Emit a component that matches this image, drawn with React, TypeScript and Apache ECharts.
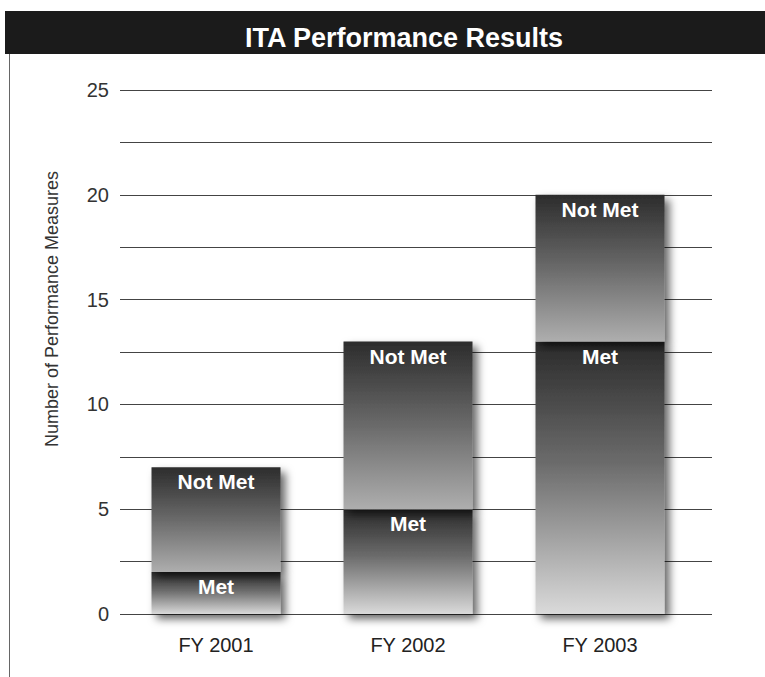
import React, { useEffect, useRef } from "react";
import * as echarts from "echarts";

const titleText = "ITA Performance Results";
const yAxisName = "Number of Performance Measures";
const categories = ["FY 2001", "FY 2002", "FY 2003"];
const metValues = [2, 5, 13];
const notMetValues = [5, 8, 7];
const seriesNames = ["Met", "Not Met"];

export default function App() {
  const ref = useRef<HTMLDivElement>(null);
  useEffect(() => {
    if (!ref.current) return;
    const chart = echarts.init(ref.current, undefined, { renderer: "svg" });
    const font = "'Liberation Sans', Arial, Helvetica, sans-serif";
    const barStyle = (stops: [number, string][]) => ({
      color: new echarts.graphic.LinearGradient(
        0, 0, 0, 1,
        stops.map(([offset, color]) => ({ offset, color }))
      ),
      shadowColor: "rgba(0,0,0,0.6)",
      shadowBlur: 9,
      shadowOffsetX: 5,
      shadowOffsetY: 5,
    });
    const label = (text: string) => ({
      show: true,
      position: "insideTop" as const,
      distance: 4,
      formatter: text,
      color: "#ffffff",
      fontWeight: "bold" as const,
      fontSize: 21,
      fontFamily: font,
    });
    chart.setOption({
      animation: false,
      backgroundColor: "#ffffff",
      title: {
        text: titleText,
        left: 399,
        top: 33,
        textAlign: "center",
        textVerticalAlign: "middle",
        textStyle: {
          color: "#ffffff",
          fontSize: 27,
          fontWeight: "bold",
          fontFamily: font,
        },
      },
      graphic: [
        {
          type: "line",
          z: -1,
          shape: { x1: 9.5, y1: 11, x2: 9.5, y2: 677 },
          style: { stroke: "#666666", lineWidth: 1 },
        },
        {
          type: "rect",
          z: -1,
          shape: { x: 5, y: 11, width: 760, height: 43 },
          style: { fill: "#1b1b1b" },
        },
        {
          type: "text",
          x: 52,
          y: 309,
          rotation: Math.PI / 2,
          style: {
            text: yAxisName,
            fill: "#333333",
            fontSize: 18,
            fontFamily: font,
            textAlign: "center",
            textVerticalAlign: "middle",
          },
        },
      ],
      grid: [
        { left: 120, width: 592, top: 90, height: 524 },
        { left: 120, width: 576, top: 90, height: 524 },
      ],
      xAxis: [
        { type: "value", gridIndex: 0, show: false, min: 0, max: 1 },
        {
          type: "category",
          gridIndex: 1,
          data: categories,
          axisLine: { show: false },
          axisTick: { show: false },
          axisLabel: {
            color: "#222222",
            fontSize: 20,
            fontFamily: font,
            margin: 21,
          },
        },
      ],
      yAxis: [
        {
          type: "value",
          gridIndex: 0,
          min: 0,
          max: 25,
          interval: 2.5,
          axisLine: { show: false },
          axisTick: { show: false },
          axisLabel: {
            color: "#333333",
            fontSize: 20,
            fontFamily: font,
            margin: 11,
            formatter: (v: number) => (v % 5 === 0 ? String(v) : ""),
          },
          splitLine: { lineStyle: { color: "#444444", width: 1 } },
        },
        {
          type: "value",
          gridIndex: 1,
          min: 0,
          max: 25,
          show: false,
          splitLine: { show: false },
        },
      ],
      series: [
        {
          name: seriesNames[0],
          type: "bar",
          xAxisIndex: 1,
          yAxisIndex: 1,
          stack: "total",
          barWidth: 129,
          data: metValues,
          itemStyle: barStyle([
            [0, "#2a2a2a"],
            [0.45, "#6c6c6c"],
            [1, "#dadada"],
          ]),
          label: label(seriesNames[0]),
        },
        {
          name: seriesNames[1],
          type: "bar",
          xAxisIndex: 1,
          yAxisIndex: 1,
          stack: "total",
          barWidth: 129,
          data: notMetValues,
          itemStyle: barStyle([
            [0, "#2c2c2c"],
            [0.5, "#6a6a6a"],
            [1, "#aeaeae"],
          ]),
          label: label(seriesNames[1]),
        },
      ],
    });
    return () => chart.dispose();
  }, []);
  return (
    <div
      ref={ref}
      style={{ position: "absolute", left: 0, top: 0, width: 765, height: 677 }}
    />
  );
}
